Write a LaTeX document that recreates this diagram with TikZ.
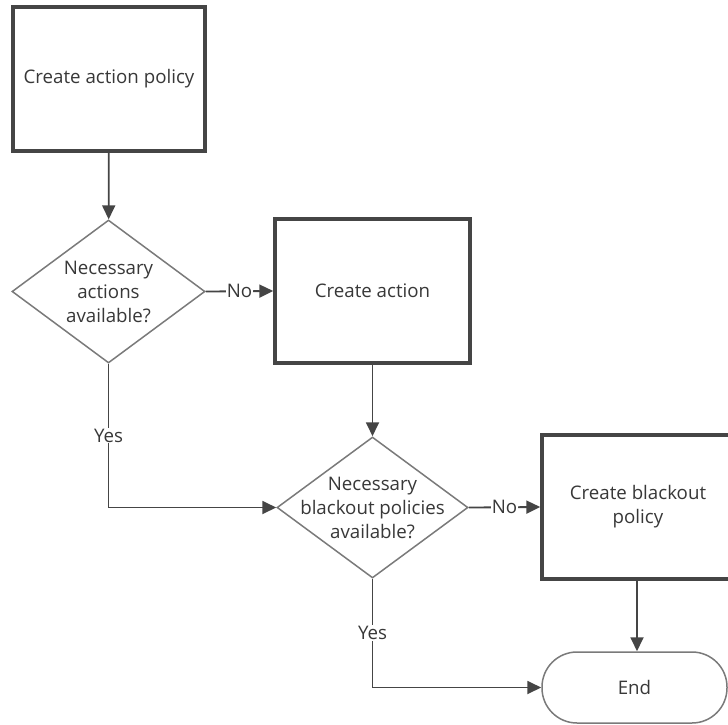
\documentclass[tikz,border=0pt]{standalone}
\usepackage{fontspec}
\setmainfont{Open Sans}
\usetikzlibrary{shapes.geometric,arrows.meta,shadows}
\definecolor{linec}{HTML}{454545}
\definecolor{dgray}{HTML}{7A7A7A}
\definecolor{textc}{HTML}{383838}
\begin{document}
\begin{tikzpicture}[x=1pt,y=-1pt,
  font=\fontsize{18.7}{24}\selectfont, text=textc,
  procbox/.style={draw=linec, line width=3.4pt, fill=white, inner sep=0pt,
    drop shadow={shadow xshift=2pt, shadow yshift=-2pt, fill=black!20, opacity=0.6},
    align=center},
  decbox/.style={draw=dgray, line width=1.5pt, fill=white, diamond, inner sep=0pt},
  termbox/.style={draw=dgray, line width=1.5pt, fill=white, rounded corners=35pt, inner sep=0pt},
  conn/.style={draw=linec, line width=1.8pt, -{Triangle[length=14pt,width=13pt]}},
  lbl/.style={fill=white, inner sep=1pt}
]
\useasboundingbox (0,0) rectangle (728,725);
\node[procbox, minimum width=192, minimum height=144] (box1) at (109,79) {Create action policy};
\node[decbox, minimum width=193, minimum height=143] (d1) at (108.5,291.5) {};
\node[align=center] (d1t) at (d1) {Necessary\\actions\\available?};
\node[procbox, minimum width=195, minimum height=144] (box2) at (372.5,291) {Create action};
\node[decbox, minimum width=191, minimum height=141] (d2) at (372.5,507.5) {};
\node[align=center] (d2t) at (d2) {Necessary\\blackout policies\\available?};
\node[procbox, minimum width=192, minimum height=144] (box3) at (638,507) {Create blackout\\policy};
\node[termbox, minimum width=185, minimum height=71] (endn) at (634.5,687.5) {End};
\draw[conn] (box1) -- (d1);
\draw[conn] (d1.east) -- node[lbl]{No} (box2.west);
\draw[conn] (box2) -- (d2);
\draw[conn] (d1.south) |- node[lbl,pos=0.25]{Yes} (d2.west);
\draw[conn] (d2.east) -- node[lbl]{No} (box3.west);
\draw[conn] (box3.south -| 637,0) -- (endn.north -| 637,0);
\draw[conn] (d2.south) |- node[lbl,pos=0.25]{Yes} (endn.west);
\end{tikzpicture}
\end{document}
